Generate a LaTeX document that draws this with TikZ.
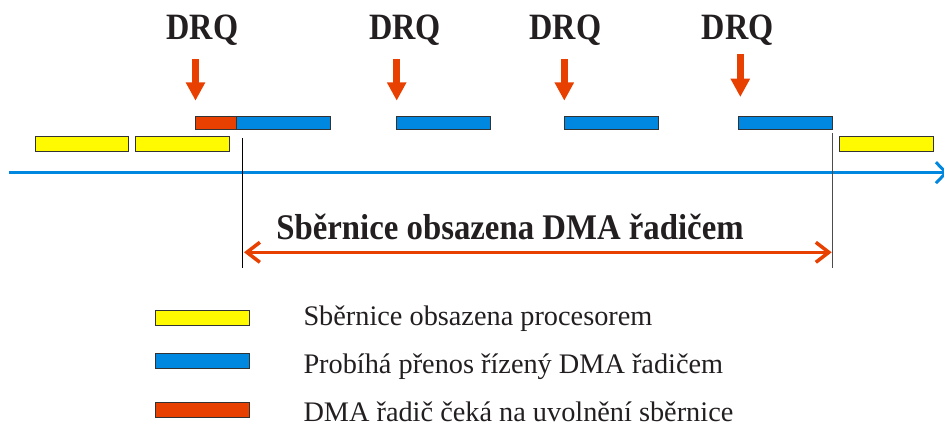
\documentclass[tikz,border=0pt]{standalone}
\usepackage{fontspec}
\setmainfont{Liberation Serif}
\usetikzlibrary{arrows.meta}
\definecolor{cred}{RGB}{232,64,0}
\definecolor{cblue}{RGB}{0,136,224}
\definecolor{cyel}{RGB}{255,250,0}
\definecolor{ctext}{RGB}{35,31,32}
\definecolor{cedge}{RGB}{51,51,51}
\tikzset{
  bar/.style={draw=cedge, line width=0.9pt, inner sep=0pt, minimum height=14.5pt},
  ybar/.style={bar, fill=cyel},
  bbar/.style={bar, fill=cblue},
  rbar/.style={bar, fill=cred},
  drqlabel/.style={text=ctext, anchor=base, inner sep=0pt, font=\fontsize{32.3}{36}\selectfont\bfseries},
  legtext/.style={text=ctext, anchor=base west, inner sep=0pt, font=\fontsize{28.3}{32}\selectfont},
  drqarrow/.style={cred, line width=6.5pt, -{Triangle[width=18.4pt,length=18.4pt]}},
  marker/.style={line width=0.9pt, draw=black},
}
\begin{document}
\begin{tikzpicture}[x=1pt,y=-1pt]
\useasboundingbox (0,0) rectangle (944,428);
\clip (0,0) rectangle (944,428);
% time axis
\coordinate (axs) at (9.3,172.7);
\coordinate (axe) at (948,172.7);
\draw[cblue, line width=3pt, -{Straight Barb[length=10pt,width=21pt]}] (axs) -- (axe);
% timeline bars
\node[ybar, minimum width=93pt] (y1) at (82.2,143.85) {};
\node[ybar, minimum width=94.3pt] (y2) at (182.15,143.85) {};
\node[rbar, minimum width=40.7pt, minimum height=13.7pt] (r1) at (215.65,122.85) {};
\node[bbar, minimum width=94pt, minimum height=13.7pt] (b1) at (283,122.85) {};
\node[bbar, minimum width=94pt, minimum height=13.7pt] (b2) at (443.7,122.85) {};
\node[bbar, minimum width=94.4pt, minimum height=13.7pt] (b3) at (611.5,122.85) {};
\node[bbar, minimum width=94pt, minimum height=13.7pt] (b4) at (785.7,122.85) {};
\node[ybar, minimum width=94.4pt] (y3) at (886.5,143.85) {};
% DRQ labels
\node[drqlabel] (d1) at (202.5,40) {\scalebox{1}[1.15]{DRQ}};
\node[drqlabel] (d2) at (405,40) {\scalebox{1}[1.15]{DRQ}};
\node[drqlabel] (d3) at (565.5,40) {\scalebox{1}[1.15]{DRQ}};
\node[drqlabel] (d4) at (737.8,40) {\scalebox{1}[1.15]{DRQ}};
% DRQ arrows
\coordinate (a1s) at (195.5,59); \coordinate (a1e) at (195.5,100.7);
\coordinate (a2s) at (396.7,59); \coordinate (a2e) at (396.7,100.7);
\coordinate (a3s) at (564.3,59); \coordinate (a3e) at (564.3,100.7);
\coordinate (a4s) at (740.3,54); \coordinate (a4e) at (740.3,97);
\draw[drqarrow] (a1s) -- (a1e);
\draw[drqarrow] (a2s) -- (a2e);
\draw[drqarrow] (a3s) -- (a3e);
\draw[drqarrow] (a4s) -- (a4e);
% markers
\coordinate (m1t) at (242.3,138); \coordinate (m1b) at (242.3,268);
\coordinate (m2t) at (832.3,133); \coordinate (m2b) at (832.3,268);
\draw[marker] (m1t) -- (m1b);
\draw[marker, draw=black!70] (m2t) -- (m2b);
% span arrow
\coordinate (sl) at (244,252.3);
\coordinate (sr) at (831.7,252.3);
\draw[cred, line width=3.5pt, {Straight Barb[length=13pt,width=20pt]}-{Straight Barb[length=13pt,width=20pt]}] (sl) -- (sr);
\node[text=ctext, anchor=base, inner sep=0pt, font=\fontsize{32.8}{36}\selectfont\bfseries] (title) at (510,239) {\scalebox{1}[1.1]{Sběrnice obsazena DMA řadičem}};
% legend
\node[ybar, minimum width=94.3pt] (ly) at (202.15,318) {};
\node[bbar, minimum width=94.3pt] (lb) at (202.15,361) {};
\node[rbar, minimum width=94.3pt] (lr) at (202.15,410) {};
\node[legtext] (ty) at (303.3,325) {Sběrnice obsazena procesorem};
\node[legtext] (tb) at (303.3,373.3) {Probíhá přenos řízený DMA řadičem};
\node[legtext] (tr) at (303.3,421) {DMA řadič čeká na uvolnění sběrnice};
\end{tikzpicture}
\end{document}
